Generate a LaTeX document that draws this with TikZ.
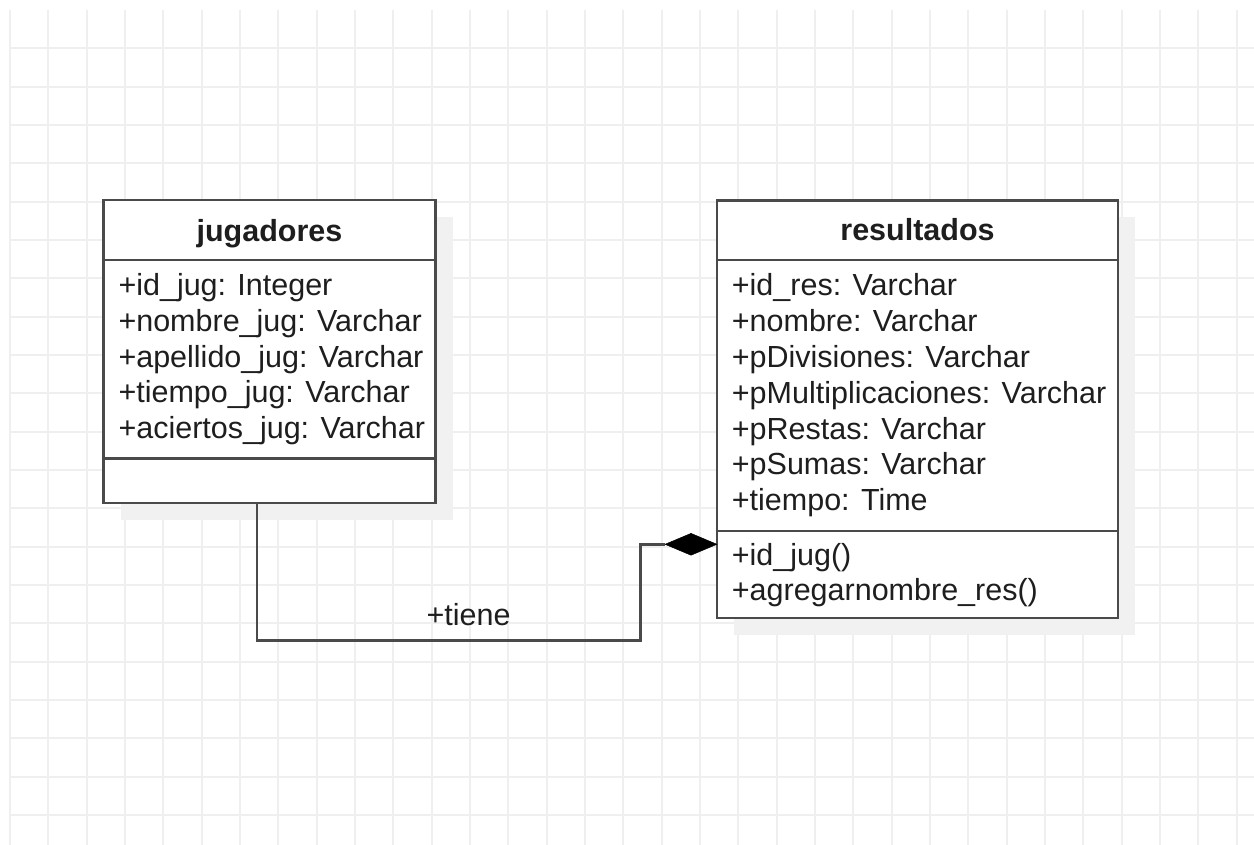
\documentclass[tikz,border=0pt]{standalone}
\usepackage{fontspec}
\setmainfont{Liberation Sans}
\usetikzlibrary{shapes.geometric}
\definecolor{gridc}{HTML}{EFEFEF}
\definecolor{shadowc}{HTML}{F1F1F1}
\definecolor{linec}{HTML}{4A4A4A}
\definecolor{textc}{HTML}{1E1E1E}
\tikzset{
  umlbox/.style={draw=linec, line width=2.8pt, fill=white, inner sep=0, rectangle},
  umlshadow/.style={fill=shadowc, draw=none},
  sepline/.style={draw=linec, line width=2.8pt},
  conn/.style={draw=linec, line width=2.8pt},
  txt/.style={anchor=base west, inner sep=0, text=textc, font=\fontsize{30.5}{35}\selectfont},
  ttl/.style={anchor=base, inner sep=0, text=textc, font=\fontsize{30.5}{35}\selectfont\bfseries},
  compdiamond/.style={diamond, fill=black, draw=black, line width=0.5pt, minimum width=52pt, minimum height=22pt, inner sep=0}
}
\begin{document}
\begin{tikzpicture}[x=1pt,y=-1pt]
\useasboundingbox (0,0) rectangle (1254,845);
\fill[white] (0,0) rectangle (1254,845);
% grid
\foreach \k in {0,...,32} {
  \draw[gridc, line width=2pt] ({10+38.33*\k},10) -- ({10+38.33*\k},845);
}
\foreach \k in {1,...,21} {
  \draw[gridc, line width=2pt] (10,{10+38.33*\k}) -- (1254,{10+38.33*\k});
}
% shadows
\fill[umlshadow] (120.5,217) rectangle (452.5,520);
\fill[umlshadow] (734,217.5) rectangle (1135,635);
% jugadores
\node[umlbox, minimum width=332pt, minimum height=303pt] (jug) at (269.5,351.5) {};
\draw[sepline] (jug.west |- 0,260) -- (jug.east |- 0,260);
\draw[sepline] (jug.west |- 0,458.5) -- (jug.east |- 0,458.5);
\node[ttl] (jugt) at (269.5,241.5) {jugadores};
\foreach \t [count=\i from 0] in {+id\_jug: Integer,+nombre\_jug: Varchar,+apellido\_jug: Varchar,+tiempo\_jug: Varchar,+aciertos\_jug: Varchar} {
  \node[txt] (ja\i) at (118.3,{296+35.6*\i}) {\t};
}
% resultados
\node[umlbox, minimum width=401pt, minimum height=417.5pt] (res) at (917.5,409.25) {};
\draw[sepline] (res.west |- 0,260) -- (res.east |- 0,260);
\draw[sepline] (res.west |- 0,531) -- (res.east |- 0,531);
\node[ttl] (rest) at (917.5,241) {resultados};
\foreach \t [count=\i from 0] in {+id\_res: Varchar,+nombre: Varchar,+pDivisiones: Varchar,+pMultiplicaciones: Varchar,+pRestas: Varchar,+pSumas: Varchar,+tiempo: Time} {
  \node[txt] (ra\i) at (731.7,{296+35.75*\i}) {\t};
}
\node[txt] (rm0) at (731.7,565) {+id\_jug()};
\node[txt] (rm1) at (731.7,600.7) {+agregarnombre\_res()};
% composition connector
\node[compdiamond] (dia) at (691,544.3) {};
\coordinate (bend) at (640.7,640.7);
\draw[conn] ([xshift=154.8pt]jug.south west) |- (bend) |- (dia.west);
\node[anchor=base, inner sep=0, text=textc, font=\fontsize{30.5}{35}\selectfont] (tiene) at (468.5,625) {+tiene};
\end{tikzpicture}
\end{document}
